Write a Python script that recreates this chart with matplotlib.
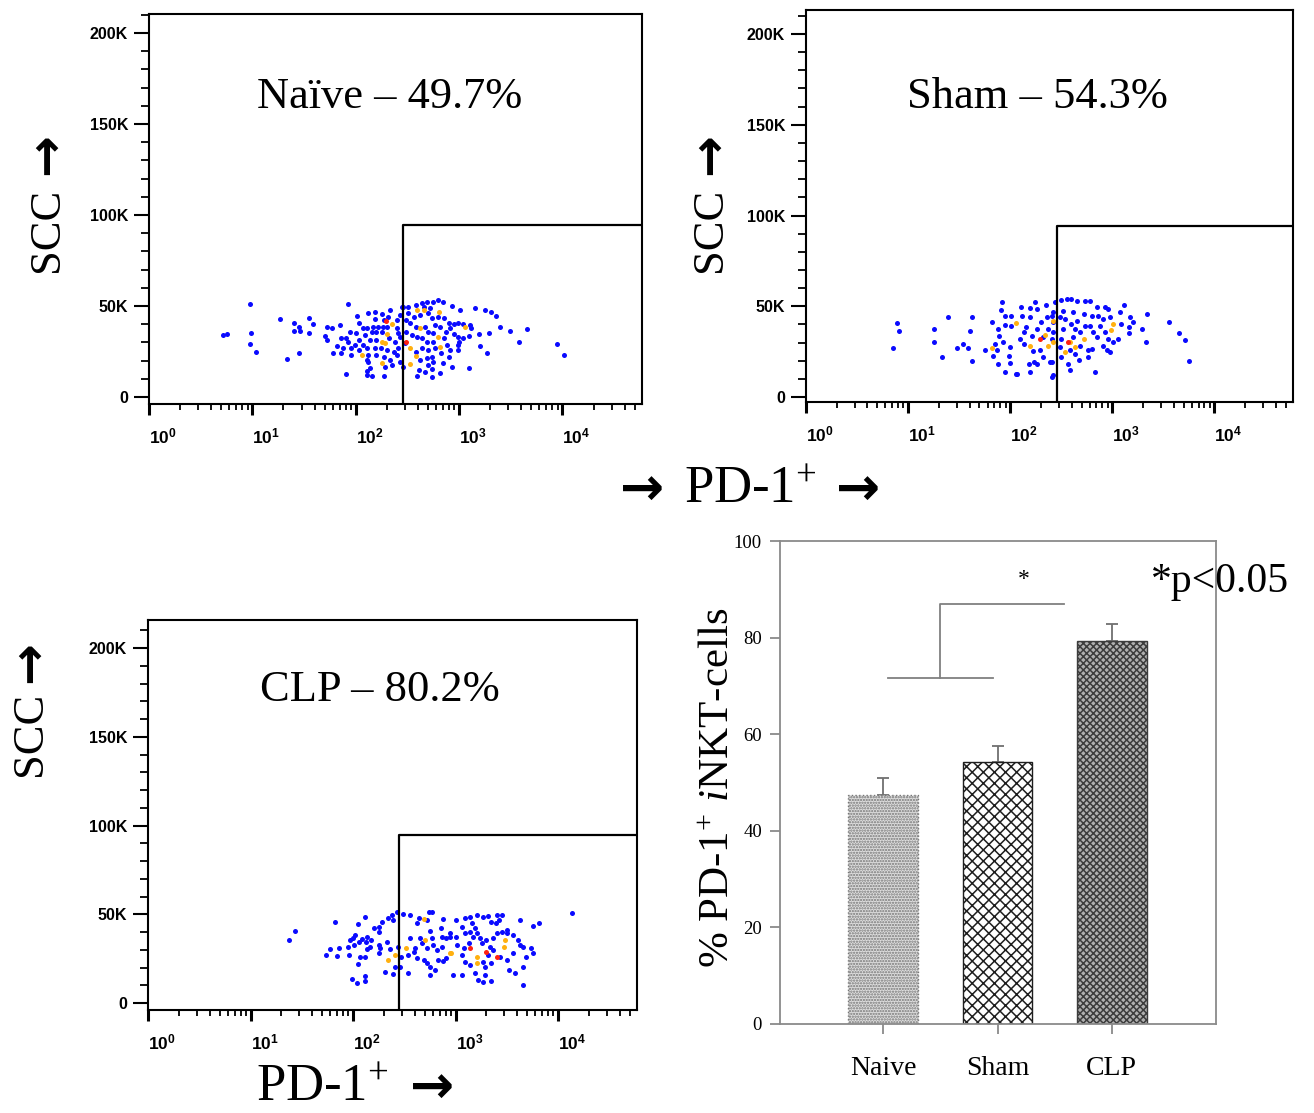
import numpy as np
import matplotlib
matplotlib.use('Agg')
import matplotlib.pyplot as plt
from matplotlib.ticker import (LogLocator, MultipleLocator, FuncFormatter,
                               NullFormatter, LogFormatterMathtext)

plt.rcParams['mathtext.default'] = 'regular'
plt.rcParams['mathtext.fontset'] = 'custom'
plt.rcParams['mathtext.rm'] = 'Liberation Serif'
plt.rcParams['mathtext.it'] = 'Liberation Serif:italic'
plt.rcParams['hatch.linewidth'] = 1.1

SERIF = ['Liberation Serif', 'DejaVu Serif']
SANS = 'Liberation Sans'
ARROW_FONT = 'DejaVu Sans'

# flow events: (log10 PD-1 intensity, SCC in thousands)
NAIVE_EVENTS = [
    (0.72, 34.1), (0.75, 34.6), (0.98, 51.1), (1.93, 51.1), (1.27, 42.7), (1.40, 40.5),
    (1.55, 43.6), (1.59, 39.9), (1.45, 38.3), (1.40, 36.4), (1.46, 36.4), (1.55, 35.3),
    (0.99, 35.3), (0.98, 29.1), (1.04, 24.9), (1.34, 20.9), (1.45, 24.0), (1.72, 38.6),
    (1.77, 38.1), (1.85, 39.6), (1.70, 33.5), (1.72, 31.3), (1.82, 28.2), (1.78, 24.0),
    (1.86, 32.6), (1.91, 32.6), (1.88, 26.8), (1.86, 24.0), (1.94, 35.5), (1.93, 30.4),
    (1.95, 26.8), (1.95, 23.1), (2.01, 44.7), (2.03, 40.5), (2.00, 35.0), (2.03, 31.3),
    (1.99, 28.6), (2.03, 25.8), (1.91, 12.6), (2.07, 37.7), (2.11, 37.7), (2.09, 34.1),
    (2.07, 28.6), (2.11, 26.8), (2.12, 23.1), (2.11, 20.3), (2.12, 19.4), (2.14, 15.8),
    (2.11, 14.5), (2.11, 12.1), (2.16, 11.7), (2.12, 46.0), (2.19, 46.9), (2.19, 42.9),
    (2.25, 45.6), (2.27, 42.3), (2.33, 47.8), (2.31, 44.1), (2.17, 38.6), (2.22, 38.3),
    (2.26, 38.3), (2.30, 38.6), (2.16, 35.9), (2.20, 35.5), (2.25, 35.9), (2.32, 32.6),
    (2.14, 31.3), (2.20, 31.3), (2.19, 26.8), (2.24, 26.8), (2.30, 25.8), (2.20, 23.1),
    (2.27, 22.2), (2.37, 24.9), (2.33, 20.3), (2.28, 16.7), (2.27, 11.7), (2.35, 17.6),
    (2.38, 30.4), (2.40, 37.7), (2.41, 35.0), (2.43, 33.1), (2.41, 26.8), (2.40, 23.1),
    (2.43, 19.4), (2.40, 42.3), (2.43, 45.1), (2.45, 49.6), (2.46, 49.6), (2.51, 49.6),
    (2.58, 50.6), (2.64, 51.8), (2.69, 52.4), (2.75, 52.4), (2.80, 53.3), (2.84, 52.0),
    (2.66, 49.6), (2.72, 48.7), (2.93, 50.2), (3.01, 47.8), (3.15, 49.1), (3.25, 47.8),
    (3.31, 46.9), (3.36, 44.7), (3.40, 38.6), (3.49, 36.4), (3.66, 37.4), (3.58, 30.4),
    (3.95, 29.1), (4.02, 23.1), (2.51, 46.0), (2.56, 44.1), (2.62, 45.1), (2.70, 46.0),
    (2.74, 43.2), (2.80, 44.1), (2.85, 43.2), (2.90, 40.5), (2.95, 39.9), (2.99, 40.5),
    (3.04, 39.9), (3.11, 39.6), (3.12, 37.7), (3.19, 34.5), (3.29, 35.3), (3.20, 28.2),
    (3.27, 24.0), (3.10, 33.7), (3.04, 32.6), (2.99, 33.1), (2.95, 34.5), (2.91, 37.7),
    (2.87, 35.9), (2.82, 38.6), (2.77, 39.6), (2.49, 42.3), (2.53, 40.5), (2.58, 38.6),
    (2.67, 38.6), (2.70, 35.9), (2.75, 35.0), (2.85, 32.2), (2.49, 35.9), (2.54, 34.1),
    (2.59, 33.1), (2.64, 32.2), (2.69, 30.4), (2.75, 30.4), (2.88, 28.6), (2.91, 25.8),
    (2.99, 28.6), (2.99, 25.8), (2.48, 29.5), (2.58, 24.9), (2.64, 26.8), (2.70, 25.8),
    (2.77, 26.8), (2.83, 24.0), (2.90, 22.2), (2.62, 20.3), (2.69, 21.2), (2.74, 22.2),
    (2.75, 19.4), (2.70, 17.6), (2.46, 16.7), (2.61, 14.8), (2.67, 13.6), (2.74, 15.4),
    (2.82, 13.0), (2.59, 11.7), (2.74, 10.8), (2.93, 16.7), (2.84, 18.5), (3.10, 15.8),
    (3.00, 30.4),
]
NAIVE_ORANGE = [
    (2.06, 23.1), (2.35, 39.9), (2.30, 34.5), (2.25, 30.4), (2.28, 29.5), (2.25, 18.5),
    (2.59, 47.8), (2.66, 47.8), (2.81, 46.9), (3.06, 38.3), (2.62, 37.7), (2.80, 33.1),
    (2.82, 27.6), (2.53, 26.8), (2.58, 22.7), (2.53, 18.0),
]
NAIVE_RED = [(2.29, 41.8), (2.49, 30.4)]

SHAM_EVENTS = [
    (0.89, 40.7), (0.91, 36.3), (0.85, 27.1), (1.25, 37.5), (1.25, 30.2), (1.39, 44.0),
    (1.33, 22.0), (1.61, 36.6), (1.63, 44.0), (1.54, 29.3), (1.48, 27.1), (1.59, 27.1),
    (1.63, 19.8), (1.75, 26.2), (1.82, 41.2), (1.83, 22.9), (1.85, 29.3), (1.88, 37.5),
    (1.89, 33.5), (1.92, 52.2), (1.91, 48.2), (1.93, 30.6), (1.87, 25.7), (1.88, 18.0),
    (1.95, 13.7), (1.95, 44.5), (1.95, 39.7), (2.01, 44.5), (2.01, 39.4), (2.00, 27.5),
    (1.99, 22.5), (2.00, 18.8), (2.07, 12.8), (2.10, 32.0), (2.11, 49.5), (2.12, 44.9),
    (2.14, 35.7), (2.14, 29.3), (2.18, 18.3), (2.19, 13.7), (2.15, 38.5), (2.19, 48.9),
    (2.19, 44.0), (2.21, 33.9), (2.22, 25.3), (2.23, 19.2), (2.26, 37.5), (2.26, 48.5),
    (2.29, 25.7), (2.30, 41.6), (2.32, 33.0), (2.32, 22.0), (2.26, 18.3), (2.35, 50.7),
    (2.36, 44.0), (2.37, 37.5), (2.39, 19.2), (2.41, 32.0), (2.42, 41.2), (2.42, 46.7),
    (2.44, 52.2), (2.42, 11.9), (2.24, 52.2), (2.50, 53.7), (2.56, 54.0), (2.60, 54.0),
    (2.65, 53.1), (2.73, 53.1), (2.78, 53.1), (3.11, 50.9), (3.34, 45.8), (3.56, 41.6),
    (3.65, 35.3), (3.71, 31.2), (3.75, 19.8), (3.33, 30.2), (3.29, 37.5), (3.16, 38.5),
    (3.16, 35.3), (3.20, 41.6), (3.09, 40.3), (3.08, 46.7), (3.01, 30.2), (2.96, 48.5),
    (2.93, 49.5), (2.98, 44.0), (2.91, 43.0), (2.85, 49.5), (2.86, 44.9), (2.88, 39.4),
    (2.93, 35.7), (2.96, 32.0), (2.91, 28.4), (2.95, 25.7), (2.80, 44.9), (2.78, 39.4),
    (2.81, 35.7), (2.85, 33.0), (2.80, 26.5), (2.76, 25.7), (2.76, 22.0), (2.72, 45.8),
    (2.73, 39.4), (2.68, 35.7), (2.68, 28.4), (2.65, 42.1), (2.62, 46.7), (2.60, 40.3),
    (2.63, 37.5), (2.62, 33.0), (2.59, 25.7), (2.63, 23.8), (2.67, 20.2), (2.57, 18.3),
    (2.59, 14.7), (2.83, 13.7), (2.50, 32.0), (2.52, 37.5), (2.54, 43.0), (2.52, 47.6),
    (2.49, 44.0), (2.50, 22.0), (2.49, 27.5), (3.17, 44.0), (3.06, 32.0), (2.98, 24.7),
    (2.42, 35.7), (2.41, 44.9), (2.41, 19.2), (2.41, 11.2), (2.06, 12.5),
]
SHAM_ORANGE = [
    (1.82, 27.1), (2.06, 40.7), (2.19, 28.4), (2.34, 34.2), (2.37, 28.4), (3.01, 40.3),
    (2.99, 36.7), (2.72, 32.0), (2.59, 30.2), (2.63, 27.5), (2.54, 24.7), (2.42, 42.1),
    (2.42, 30.2),
]
SHAM_RED = [(2.29, 32.0), (2.57, 30.4)]

CLP_EVENTS = [
    (1.43, 40.6), (1.38, 35.5), (1.82, 45.8), (2.12, 48.6), (2.05, 44.5), (1.78, 30.4),
    (1.74, 27.0), (1.86, 31.2), (1.84, 26.6), (1.96, 27.0), (1.95, 31.7), (2.00, 36.5),
    (1.97, 35.5), (2.02, 38.3), (2.06, 34.5), (2.09, 35.9), (2.14, 37.4), (2.18, 35.5),
    (2.13, 34.5), (2.20, 42.1), (2.25, 43.0), (2.25, 40.2), (2.28, 45.8), (2.34, 47.7),
    (2.38, 49.6), (2.39, 46.8), (2.43, 51.1), (2.17, 31.7), (2.14, 30.3), (2.01, 32.7),
    (2.07, 25.7), (2.12, 25.7), (2.05, 21.8), (2.25, 32.7), (2.26, 30.8), (2.25, 28.0),
    (2.33, 34.2), (2.36, 30.3), (2.41, 20.1), (2.31, 17.6), (2.39, 16.3), (1.99, 13.5),
    (2.04, 11.4), (2.12, 12.4), (2.12, 15.4), (2.44, 31.7), (2.49, 50.0), (2.56, 49.6),
    (2.62, 44.9), (2.54, 27.0), (2.47, 26.0), (2.46, 20.5), (2.54, 16.7), (2.56, 36.5),
    (2.60, 30.8), (2.59, 28.9), (2.62, 25.2), (2.65, 36.5), (2.67, 33.6), (2.72, 30.8),
    (2.69, 24.2), (2.72, 22.4), (2.75, 20.5), (2.64, 47.7), (2.74, 51.1), (2.77, 51.1),
    (2.72, 46.8), (2.75, 40.6), (2.77, 36.5), (2.78, 32.7), (2.82, 29.9), (2.87, 31.7),
    (2.83, 24.2), (2.88, 23.7), (2.91, 25.2), (2.80, 18.6), (2.75, 15.8), (2.88, 47.3),
    (2.86, 42.1), (2.87, 37.4), (2.91, 36.5), (2.95, 37.4), (2.98, 15.8), (3.00, 46.8),
    (3.06, 43.0), (3.09, 47.7), (3.14, 48.6), (3.16, 44.9), (3.19, 42.1), (3.21, 49.6),
    (3.27, 48.6), (3.32, 49.0), (3.35, 45.8), (3.39, 44.9), (3.40, 49.6), (3.45, 49.6),
    (3.42, 46.8), (3.50, 41.1), (3.63, 46.8), (3.76, 43.4), (3.81, 44.9), (4.14, 50.9),
    (3.09, 39.3), (3.14, 40.2), (3.17, 37.4), (3.21, 39.3), (3.24, 36.5), (3.26, 33.6),
    (3.30, 35.5), (3.34, 31.7), (3.37, 36.5), (3.40, 39.3), (3.45, 40.2), (3.50, 39.3),
    (3.56, 38.3), (3.61, 35.5), (3.63, 32.7), (3.66, 31.7), (3.74, 30.8), (3.76, 28.0),
    (3.69, 26.0), (3.66, 20.5), (3.56, 28.0), (3.50, 24.2), (3.43, 26.0), (3.37, 29.9),
    (3.32, 27.0), (3.27, 23.3), (3.13, 33.6), (3.08, 30.8), (3.06, 27.0), (3.09, 23.3),
    (3.14, 21.4), (3.29, 20.5), (3.35, 22.4), (3.52, 18.6), (3.58, 16.7), (3.19, 16.7),
    (3.22, 13.0), (3.27, 12.0), (3.35, 12.6), (3.29, 15.8), (3.66, 10.1), (3.06, 15.8),
    (3.01, 32.7), (3.00, 37.4), (2.95, 39.3),
]
CLP_ORANGE = [
    (2.34, 24.2), (2.41, 27.0), (2.52, 30.8), (2.70, 35.5), (2.69, 47.3), (2.96, 28.0),
    (3.47, 31.7), (3.21, 26.0), (3.21, 22.4), (2.95, 28.0), (3.48, 35.5),
]
CLP_RED = [(3.40, 26.0), (3.30, 28.9), (3.14, 30.8)]

PANEL_LABELS = ['Na\u00efve \u2013 49.7%', 'Sham \u2013 54.3%', 'CLP \u2013 80.2%']
GATE_PD1 = [10 ** 2.46, 10 ** 2.455, 10 ** 2.45]   # PD-1+ gate threshold
GATE_SCC = [94.5, 94.5, 94.7]                       # gate upper SCC (K)

# bar chart summary
GROUPS = ['Naive', 'Sham', 'CLP']
PCT_PD1 = [47.5, 54.2, 79.3]
SEM_PD1 = [3.4, 3.3, 3.5]


def flow_panel(ax, events, orange, red, label, lx, ly, ylim, gate_x, gate_y):
    xmax = 10 ** 4.77
    for pts, col in ((events, '#0a0aff'), (orange, '#ffb010'), (red, '#ff2010')):
        p = np.array(pts)
        ax.scatter(10 ** p[:, 0], p[:, 1], s=13, c=col, linewidths=0, zorder=2)
    ax.plot([gate_x, gate_x, xmax], [ylim[0], gate_y, gate_y], color='black', lw=1.6,
            zorder=3)
    ax.set_xscale('log')
    ax.set_xlim(1, xmax)
    ax.set_ylim(*ylim)
    ax.yaxis.set_major_locator(MultipleLocator(50))
    ax.yaxis.set_minor_locator(MultipleLocator(10))
    ax.yaxis.set_major_formatter(FuncFormatter(lambda v, p: '0' if v == 0 else f'{int(v)}K'))
    ax.xaxis.set_major_locator(LogLocator(base=10, numticks=10))
    ax.xaxis.set_minor_locator(LogLocator(base=10, subs=np.arange(2, 10), numticks=10))
    ax.xaxis.set_major_formatter(LogFormatterMathtext())
    ax.xaxis.set_minor_formatter(NullFormatter())
    for s in ax.spines.values():
        s.set_linewidth(1.5)
    ax.tick_params(axis='y', which='major', direction='out', length=11, width=1.5,
                   pad=4, labelsize=11.5)
    ax.tick_params(axis='y', which='minor', direction='out', length=5.5, width=1.3)
    ax.tick_params(axis='x', which='major', direction='out', length=8, width=2.2,
                   pad=8, labelsize=12.5)
    ax.tick_params(axis='x', which='minor', direction='out', length=4.5, width=1.3)
    for lab in ax.get_xticklabels() + ax.get_yticklabels():
        lab.set_fontfamily(SANS)
        lab.set_fontweight('bold')
    plt.setp(ax.get_xticklabels(), ha='left')
    ax.text(lx, ly, label, transform=ax.transAxes, ha='center', va='center',
            fontsize=32, family=SERIF)


fig = plt.figure(figsize=(13.14, 11.13), dpi=100)
W, H = 1314, 1113


def px_axes(left, top, right, bottom):
    return fig.add_axes([left / W, 1 - bottom / H, (right - left) / W, (bottom - top) / H])


def fig_text(px, py, s, **kw):
    return fig.text(px / W, 1 - py / H, s, ha='center', va='center', **kw)


ax1 = px_axes(149, 14, 642, 404)
flow_panel(ax1, NAIVE_EVENTS, NAIVE_ORANGE, NAIVE_RED, PANEL_LABELS[0], 0.489, 0.787,
           (-3.85, 210.4), GATE_PD1[0], GATE_SCC[0])
ax2 = px_axes(806, 10, 1293, 402)
flow_panel(ax2, SHAM_EVENTS, SHAM_ORANGE, SHAM_RED, PANEL_LABELS[1], 0.476, 0.778,
           (-2.7, 213.2), GATE_PD1[1], GATE_SCC[1])
ax3 = px_axes(148, 620, 637, 1010)
flow_panel(ax3, CLP_EVENTS, CLP_ORANGE, CLP_RED, PANEL_LABELS[2], 0.474, 0.82,
           (-3.9, 215.8), GATE_PD1[2], GATE_SCC[2])

# axis captions for the flow plots: word in serif, arrow drawn bold
for fx, word_y, arrow_y in ((47, 230, 154), (710, 230, 154), (30, 734, 662)):
    fig_text(fx, word_y, 'SCC', rotation=90, fontsize=32, family=SERIF)
    fig_text(fx, arrow_y, '\u2192', rotation=90, fontsize=36, family=ARROW_FONT,
             fontweight='bold')
fig_text(642, 490, '\u2192', fontsize=38, family=ARROW_FONT, fontweight='bold')
fig_text(750, 490, 'PD-1$^{+}$', fontsize=38, family=SERIF)
fig_text(858, 490, '\u2192', fontsize=38, family=ARROW_FONT, fontweight='bold')
fig_text(322, 1088, 'PD-1$^{+}$', fontsize=38, family=SERIF)
fig_text(432, 1088, '\u2192', fontsize=38, family=ARROW_FONT, fontweight='bold')

# bar chart
axb = px_axes(780, 541, 1216, 1024)
x = np.arange(len(GROUPS))
faces = ['#dedede', 'white', '#b0b0b0']
edges = ['#767676', '#1e1e1e', '#3c3c3c']
hatches = ['......', 'xxx', 'xxxxx']
bars = axb.bar(x, PCT_PD1, width=0.61, color=faces, edgecolor=edges, linewidth=1.0,
               zorder=2)
for b, h in zip(bars, hatches):
    b.set_hatch(h)
bars[0].set_linestyle(':')
axb.errorbar(x, PCT_PD1, yerr=[np.zeros(len(x)), SEM_PD1], fmt='none', ecolor='#707070',
             elinewidth=1.3, capsize=4, capthick=1.3, zorder=1)

# significance bracket (Naive/Sham vs CLP)
br_low, br_high = 71.6, 87.0
axb.plot([0.04, 0.96], [br_low, br_low], color='#808080', lw=1.3)
axb.plot([0.5, 0.5, 1.58], [br_low, br_high, br_high], color='#808080', lw=1.3)
axb.text(1.23, 92.0, '*', ha='center', va='center', fontsize=17, family=SERIF)
fig_text(1220, 582, '*p<0.05', fontsize=30, family=SERIF)

axb.set_xlim(-0.904, 2.912)
axb.set_ylim(0, 100)
axb.set_xticks(x)
axb.set_xticklabels(GROUPS)
axb.yaxis.set_major_locator(MultipleLocator(20))
for s in axb.spines.values():
    s.set_color('#8a8a8a')
    s.set_linewidth(1.3)
axb.tick_params(axis='both', direction='out', color='#8a8a8a', width=1.3)
axb.tick_params(axis='y', length=7, pad=6, labelsize=13.5)
axb.tick_params(axis='x', length=7, pad=16, labelsize=20)
for lab in axb.get_xticklabels() + axb.get_yticklabels():
    lab.set_fontfamily(SERIF)
fig_text(719, 788, '% PD-1$^{+}$ $\\it{i}$NKT-cells', rotation=90, fontsize=31,
         family=SERIF)

fig.savefig('out.png', dpi=100)
